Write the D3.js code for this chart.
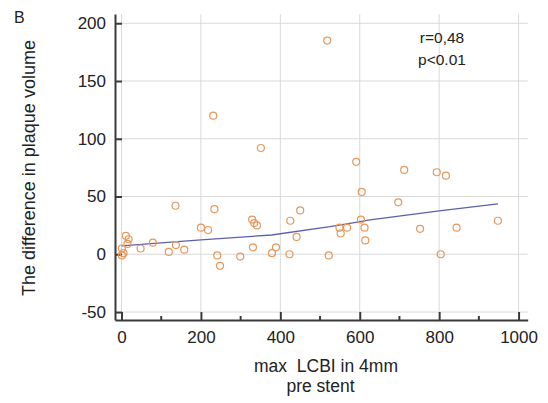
<!DOCTYPE html>
<html>
<head>
<meta charset="utf-8">
<script src="https://cdn.jsdelivr.net/npm/d3@7"></script>
<style>
  body { margin: 0; background: #fff; }
  svg { display: block; font-family: "Liberation Sans", Arial, sans-serif; }
</style>
</head>
<body>
<svg id="chart" width="548" height="403"></svg>
<script>
// max LCBI in 4mm pre stent (x) vs difference in plaque volume (y)
const lcbi = [231, 518, 136, 234, 200, 218, 11, 18, 79, 15, 137, 1, 48, 158, 119, 5, 1, 241, 299, 248,
  351, 591, 605, 450, 329, 334, 341, 425, 603, 549, 568, 612, 552, 441, 331, 389, 379, 423, 614, 522,
  712, 794, 817, 697, 948, 752, 844, 804];
const plaqueDiff = [120, 185, 42, 39, 23, 21, 16, 13, 10, 9, 8, 5, 5, 4, 2, 1, -1, -1, -2, -10,
  92, 80, 54, 38, 30, 27, 25, 29, 30, 23, 23, 23, 18, 15, 6, 6, 1, 0, 12, -1,
  73, 71, 68, 45, 29, 22, 23, 0];

// fitted trend line
const fitX = [0, 200, 378, 525, 575, 626, 800, 948];
const fitY = [7.2, 12.4, 16.7, 23.9, 26.8, 29.7, 37.5, 43.6];

const xTicks = [0, 200, 400, 600, 800, 1000];
const xMinor = [100, 300, 500, 700, 900];
const yTicks = [-50, 0, 50, 100, 150, 200];

const svg = d3.select("#chart");

const x = d3.scaleLinear().domain([-16.4, 1023]).range([115, 527.7]);
const y = d3.scaleLinear().domain([-56.9, 208]).range([320, 14]);

// grid
const grid = svg.append("g").attr("stroke", "#d9d9d9").attr("stroke-width", 1);
grid.selectAll(".gx").data(xTicks).enter().append("line")
  .attr("x1", d => x(d)).attr("x2", d => x(d))
  .attr("y1", y(-50)).attr("y2", y(208));
grid.selectAll(".gy").data(yTicks).enter().append("line")
  .attr("x1", x(0)).attr("x2", x(1023))
  .attr("y1", d => y(d)).attr("y2", d => y(d));

// axes
const fmt = d => String(d);
const xAxis = svg.append("g")
  .attr("transform", "translate(0,320)")
  .call(d3.axisBottom(x).tickValues(xTicks).tickFormat(fmt)
    .tickSizeInner(-8).tickSizeOuter(0).tickPadding(11));
xAxis.selectAll(".minor").data(xMinor).enter().append("line")
  .attr("x1", d => x(d)).attr("x2", d => x(d))
  .attr("y1", 0).attr("y2", -4);

const yAxis = svg.append("g")
  .attr("transform", "translate(115,0)")
  .call(d3.axisLeft(y).tickValues(yTicks).tickFormat(fmt)
    .tickSizeInner(-7).tickSizeOuter(0).tickPadding(9));

svg.selectAll(".domain").attr("stroke", "#3a3a3a").attr("stroke-width", 2);
svg.selectAll(".tick line").attr("stroke", "#3a3a3a").attr("stroke-width", 2);
xAxis.selectAll("line").attr("stroke", "#3a3a3a").attr("stroke-width", 2);
svg.selectAll(".tick text").attr("font-size", 17).attr("fill", "#222")
  .attr("font-family", "'Liberation Sans', Arial, sans-serif");

// trend line
const line = d3.line().x((d, i) => x(fitX[i])).y(d => y(d));
svg.append("path")
  .datum(fitY)
  .attr("d", line)
  .attr("fill", "none")
  .attr("stroke", "#5d5fae")
  .attr("stroke-width", 1.3);

// points
svg.append("g").selectAll("circle")
  .data(lcbi)
  .enter().append("circle")
  .attr("cx", d => x(d))
  .attr("cy", (d, i) => y(plaqueDiff[i]))
  .attr("r", 3.5)
  .attr("fill", "none")
  .attr("stroke", "#e8975b")
  .attr("stroke-width", 1.2);

// texts
svg.append("text").attr("x", 14).attr("y", 23).attr("font-size", 16).attr("fill", "#222").text("B");

svg.append("text").attr("x", 442).attr("y", 43).attr("text-anchor", "middle")
  .attr("font-size", 15.5).attr("fill", "#222").text("r=0,48");
svg.append("text").attr("x", 442).attr("y", 65).attr("text-anchor", "middle")
  .attr("font-size", 15.5).attr("fill", "#222").text("p<0.01");

svg.append("text").attr("x", 326).attr("y", 372).attr("text-anchor", "middle")
  .attr("font-size", 17.5).attr("fill", "#222")
  .style("white-space", "pre").text("max  LCBI in 4mm");
svg.append("text").attr("x", 320.5).attr("y", 392).attr("text-anchor", "middle")
  .attr("font-size", 17.5).attr("fill", "#222").text("pre stent");

svg.append("text")
  .attr("transform", "translate(35,168) rotate(-90)")
  .attr("text-anchor", "middle")
  .attr("font-size", 18).attr("fill", "#222")
  .text("The difference in plaque volume");
</script>
</body>
</html>
